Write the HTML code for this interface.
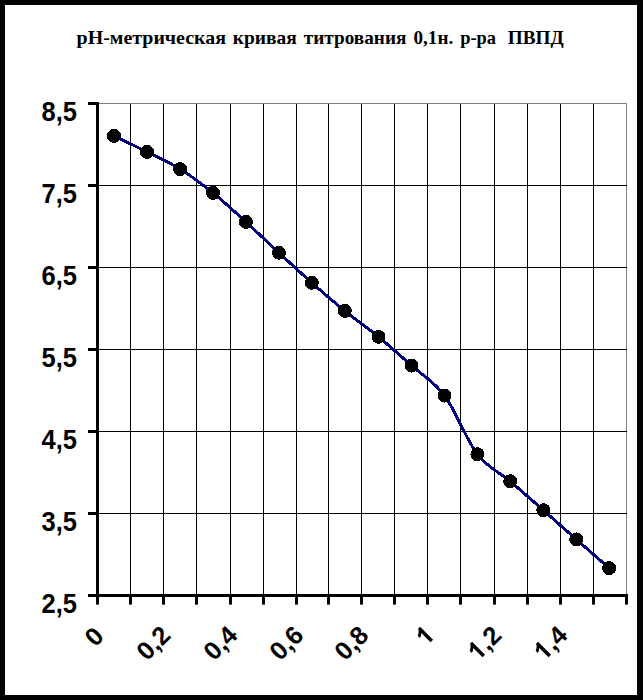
<!DOCTYPE html>
<html><head><meta charset="utf-8"><title>chart</title>
<style>
html,body{margin:0;padding:0;background:#000;}
body{width:643px;height:700px;position:relative;overflow:hidden;font-family:"Liberation Sans",sans-serif;}
#paper{position:absolute;left:5px;top:5px;width:632px;height:690px;background:#fff;}
.tt{font-family:"Liberation Serif",serif;font-weight:bold;font-size:19px;fill:#000;}
.ax{font-family:"Liberation Sans",sans-serif;font-weight:bold;font-size:25.5px;fill:#000;}
</style></head><body>
<div id="paper"></div>
<svg width="643" height="700" viewBox="0 0 643 700" style="position:absolute;left:0;top:0">
<rect x="97.5" y="103.5" width="529.0" height="492.0" fill="#fff" stroke="#808080" stroke-width="1"/>
<path d="M130.5,103.5 V595.5 M163.5,103.5 V595.5 M196.5,103.5 V595.5 M230.5,103.5 V595.5 M263.5,103.5 V595.5 M296.5,103.5 V595.5 M328.5,103.5 V595.5 M361.5,103.5 V595.5 M394.5,103.5 V595.5 M427.5,103.5 V595.5 M460.5,103.5 V595.5 M494.5,103.5 V595.5 M527.5,103.5 V595.5 M560.5,103.5 V595.5 M593.5,103.5 V595.5 M97.5,185.5 H626.5 M97.5,267.5 H626.5 M97.5,349.5 H626.5 M97.5,431.5 H626.5 M97.5,513.5 H626.5" stroke="#000" stroke-width="1" fill="none" shape-rendering="crispEdges"/>
<rect x="96" y="102" width="3" height="495" fill="#000"/>
<rect x="96" y="594" width="532" height="3" fill="#000"/>
<rect x="88" y="102.0" width="9" height="3" fill="#000"/>
<rect x="88" y="184.0" width="9" height="3" fill="#000"/>
<rect x="88" y="266.0" width="9" height="3" fill="#000"/>
<rect x="88" y="348.0" width="9" height="3" fill="#000"/>
<rect x="88" y="430.0" width="9" height="3" fill="#000"/>
<rect x="88" y="512.0" width="9" height="3" fill="#000"/>
<rect x="88" y="594.0" width="9" height="3" fill="#000"/>
<rect x="96.0" y="596" width="3" height="8.6" fill="#000"/>
<rect x="129.0" y="596" width="3" height="8.6" fill="#000"/>
<rect x="162.0" y="596" width="3" height="8.6" fill="#000"/>
<rect x="195.0" y="596" width="3" height="8.6" fill="#000"/>
<rect x="229.0" y="596" width="3" height="8.6" fill="#000"/>
<rect x="262.0" y="596" width="3" height="8.6" fill="#000"/>
<rect x="295.0" y="596" width="3" height="8.6" fill="#000"/>
<rect x="327.0" y="596" width="3" height="8.6" fill="#000"/>
<rect x="360.0" y="596" width="3" height="8.6" fill="#000"/>
<rect x="393.0" y="596" width="3" height="8.6" fill="#000"/>
<rect x="426.0" y="596" width="3" height="8.6" fill="#000"/>
<rect x="459.0" y="596" width="3" height="8.6" fill="#000"/>
<rect x="493.0" y="596" width="3" height="8.6" fill="#000"/>
<rect x="526.0" y="596" width="3" height="8.6" fill="#000"/>
<rect x="559.0" y="596" width="3" height="8.6" fill="#000"/>
<rect x="592.0" y="596" width="3" height="8.6" fill="#000"/>
<rect x="625.0" y="596" width="3" height="8.6" fill="#000"/>
<path d="M114.0,135.9 C119.5,138.6 136.0,146.4 147.0,151.9 C158.0,157.5 169.1,162.2 180.1,169.1 C191.1,175.9 202.0,184.0 213.0,192.8 C224.0,201.7 234.9,212.0 245.9,221.9 C256.9,231.9 267.9,242.5 278.9,252.7 C289.9,262.8 300.8,273.1 311.8,282.8 C322.8,292.4 333.7,301.9 344.8,310.9 C355.9,319.9 367.4,327.6 378.5,336.8 C389.6,345.9 400.5,355.8 411.5,365.6 C422.5,375.4 433.5,380.8 444.5,395.6 C455.5,410.3 466.4,440.0 477.4,454.2 C488.3,468.5 499.2,471.9 510.2,481.2 C521.2,490.6 532.4,500.6 543.4,510.2 C554.4,519.9 565.3,529.7 576.3,539.4 C587.3,549.0 603.7,563.4 609.2,568.1" stroke="#000080" stroke-width="3" fill="none" stroke-linejoin="round" shape-rendering="crispEdges"/>
<circle cx="114.0" cy="135.9" r="7" fill="#000" shape-rendering="crispEdges"/>
<circle cx="147.0" cy="151.9" r="7" fill="#000" shape-rendering="crispEdges"/>
<circle cx="180.1" cy="169.1" r="7" fill="#000" shape-rendering="crispEdges"/>
<circle cx="213.0" cy="192.8" r="7" fill="#000" shape-rendering="crispEdges"/>
<circle cx="245.9" cy="221.9" r="7" fill="#000" shape-rendering="crispEdges"/>
<circle cx="278.9" cy="252.7" r="7" fill="#000" shape-rendering="crispEdges"/>
<circle cx="311.8" cy="282.8" r="7" fill="#000" shape-rendering="crispEdges"/>
<circle cx="344.8" cy="310.9" r="7" fill="#000" shape-rendering="crispEdges"/>
<circle cx="378.5" cy="336.8" r="7" fill="#000" shape-rendering="crispEdges"/>
<circle cx="411.5" cy="365.6" r="7" fill="#000" shape-rendering="crispEdges"/>
<circle cx="444.5" cy="395.6" r="7" fill="#000" shape-rendering="crispEdges"/>
<circle cx="477.4" cy="454.2" r="7" fill="#000" shape-rendering="crispEdges"/>
<circle cx="510.2" cy="481.2" r="7" fill="#000" shape-rendering="crispEdges"/>
<circle cx="543.4" cy="510.2" r="7" fill="#000" shape-rendering="crispEdges"/>
<circle cx="576.3" cy="539.4" r="7" fill="#000" shape-rendering="crispEdges"/>
<circle cx="609.2" cy="568.1" r="7" fill="#000" shape-rendering="crispEdges"/>
<text transform="translate(77,121.0) scale(1,1.07)" text-anchor="end" class="ax">8,5</text>
<text transform="translate(77,203.0) scale(1,1.07)" text-anchor="end" class="ax">7,5</text>
<text transform="translate(77,285.0) scale(1,1.07)" text-anchor="end" class="ax">6,5</text>
<text transform="translate(77,367.0) scale(1,1.07)" text-anchor="end" class="ax">5,5</text>
<text transform="translate(77,449.0) scale(1,1.07)" text-anchor="end" class="ax">4,5</text>
<text transform="translate(77,531.0) scale(1,1.07)" text-anchor="end" class="ax">3,5</text>
<text transform="translate(77,613.0) scale(1,1.07)" text-anchor="end" class="ax">2,5</text>
<g transform="translate(105.2,637.8) rotate(-45)"><text x="-14.18" y="0" class="ax">0</text></g>
<g transform="translate(172.0,636.8) rotate(-45)"><text x="-35.45" y="0" class="ax">0,2</text></g>
<g transform="translate(239.0,636.8) rotate(-45)"><text x="-35.45" y="0" class="ax">0,4</text></g>
<g transform="translate(305.0,636.8) rotate(-45)"><text x="-35.45" y="0" class="ax">0,6</text></g>
<g transform="translate(370.0,636.8) rotate(-45)"><text x="-35.45" y="0" class="ax">0,8</text></g>
<g transform="translate(436.0,636.8) rotate(-45)"><path transform="translate(-14.18,0) scale(0.01245,-0.01245)" d="M806 0H525V1059Q371 915 162 846V1101Q272 1137 401 1237.5T578 1472H806Z" fill="#000"/></g>
<g transform="translate(503.0,636.8) rotate(-45)"><path transform="translate(-35.45,0) scale(0.01245,-0.01245)" d="M806 0H525V1059Q371 915 162 846V1101Q272 1137 401 1237.5T578 1472H806Z" fill="#000"/><text x="-21.27" y="0" class="ax">,2</text></g>
<g transform="translate(569.0,636.8) rotate(-45)"><path transform="translate(-35.45,0) scale(0.01245,-0.01245)" d="M806 0H525V1059Q371 915 162 846V1101Q272 1137 401 1237.5T578 1472H806Z" fill="#000"/><text x="-21.27" y="0" class="ax">,4</text></g>
<text x="76.6" y="44.0" textLength="149.4" lengthAdjust="spacingAndGlyphs" class="tt">pH-метрическая</text>
<text x="232.7" y="44.0" textLength="64.2" lengthAdjust="spacingAndGlyphs" class="tt">кривая</text>
<text x="303.7" y="44.0" textLength="102.7" lengthAdjust="spacingAndGlyphs" class="tt">титрования</text>
<text x="413.5" y="44.0" textLength="39.7" lengthAdjust="spacingAndGlyphs" class="tt">0,1н.</text>
<text x="460.2" y="44.0" textLength="35.8" lengthAdjust="spacingAndGlyphs" class="tt">р-ра</text>
<text x="507.8" y="44.0" textLength="56.0" lengthAdjust="spacingAndGlyphs" class="tt">ПВПД</text>
</svg>
</body></html>
